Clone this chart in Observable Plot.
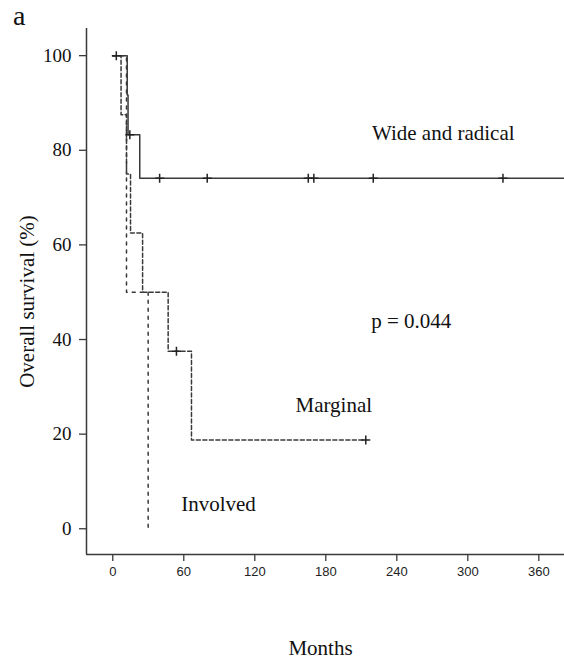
<!DOCTYPE html>
<html><head><meta charset="utf-8">
<script src="https://cdn.jsdelivr.net/npm/d3@7"></script>
<script src="https://cdn.jsdelivr.net/npm/@observablehq/plot@0.6"></script>
<style>
body{margin:0;background:#fff}
#chart{position:relative;width:564px;height:662px;overflow:hidden}
#panel{position:absolute;left:13px;top:1px;line-height:1.1;font-family:"Liberation Serif",serif;font-size:28px;color:#111}
</style>
</head><body><div id="chart"><div id="panel">a</div></div>
<script>
// Kaplan–Meier step curves (months, overall survival %)
const wideMonths = [0, 12.2, 12.9, 22.8, 381];
const wideSurv   = [100, 91.7, 83.3, 74.1, 74.1];
const margMonths = [0, 7.0, 11.6, 15.0, 25.2, 46.8, 66.5, 213.8];
const margSurv   = [100, 87.5, 75.0, 62.5, 50.0, 37.5, 18.75, 18.75];
const invMonths  = [0, 11.6, 29.9];
const invSurv    = [100, 50, 0];
// censored observations
const wideCensMonths = [3, 14.4, 39.6, 79.8, 165.2, 169.9, 220.1, 329.7];
const wideCensSurv   = [100, 83.3, 74.1, 74.1, 74.1, 74.1, 74.1, 74.1];
const margCensMonths = [53.8, 213.8];
const margCensSurv   = [37.5, 18.75];
// labels
const labelText   = ["Wide and radical", "p = 0.044", "Marginal", "Involved"];
const labelMonths = [219, 218.4, 154.4, 57.8];
const labelSurv   = [83.7, 43.9, 26.0, 5.1];
// axes
const xTicks = [0, 60, 120, 180, 240, 300, 360];
const yTicks = [0, 20, 40, 60, 80, 100];
const xDomain = [-22.2, 381.7];
const yDomain = [-5.44, 105.74];

const toRows = (xs, ys) => xs.map((x, i) => ({x, y: ys[i]}));
const wide = toRows(wideMonths, wideSurv);
const marg = toRows(margMonths, margSurv);
const inv = toRows(invMonths, invSurv);
const cens = toRows(wideCensMonths, wideCensSurv).concat(toRows(margCensMonths, margCensSurv));
const labels = labelText.map((t, i) => ({t, x: labelMonths[i], y: labelSurv[i]}));

const plusSymbol = {draw(ctx, size) {
  const r = Math.sqrt(size / Math.PI);
  ctx.moveTo(-r, 0); ctx.lineTo(r, 0);
  ctx.moveTo(0, -r); ctx.lineTo(0, r);
}};

const serif = "Liberation Serif, Times New Roman, serif";
const ink = "#3a3a3a";

const chart = Plot.plot({
  width: 564, height: 662,
  marginLeft: 86, marginRight: 0, marginTop: 28, marginBottom: 108,
  x: {domain: xDomain},
  y: {domain: yDomain},
  style: {background: "#fff", fontFamily: serif, color: "#111"},
  marks: [
    Plot.axisY(yTicks, {tickSize: 7, tickPadding: 8, fontSize: 19, fontFamily: serif, stroke: ink, strokeWidth: 1.3, fill: "#111", label: null}),
    Plot.axisX(xTicks, {tickSize: 7, tickPadding: 5, fontSize: 13, fontFamily: "Liberation Sans, Arial, sans-serif", stroke: ink, strokeWidth: 1.3, fill: "#222", label: null}),
    Plot.ruleX([xDomain[0]], {stroke: ink, strokeWidth: 1.5}),
    Plot.ruleY([yDomain[0]], {stroke: ink, strokeWidth: 1.5}),
    Plot.line(wide, {x: "x", y: "y", curve: "step-after", stroke: ink, strokeWidth: 1.5}),
    Plot.line(marg, {x: "x", y: "y", curve: "step-after", stroke: ink, strokeWidth: 1.5, strokeDasharray: "4,2.5"}),
    Plot.line(inv, {x: "x", y: "y", curve: "step-after", stroke: ink, strokeWidth: 1.5, strokeDasharray: "3,5"}),
    Plot.dot(cens, {x: "x", y: "y", r: 4.5, symbol: plusSymbol, fill: "none", stroke: "#222", strokeWidth: 1.5}),
    Plot.text(labels, {x: "x", y: "y", text: "t", textAnchor: "start", lineAnchor: "middle", fontSize: 21, fontFamily: serif, fill: "#111"}),
    Plot.text(["Months"], {frameAnchor: "bottom", textAnchor: "middle", dx: -5, dy: 94, lineAnchor: "middle", fontSize: 21, fontFamily: serif, fill: "#111"}),
    Plot.text(["Overall survival (%)"], {frameAnchor: "left", textAnchor: "middle", dx: -59, dy: 10, rotate: -90, lineAnchor: "middle", fontSize: 21, fontFamily: serif, fill: "#111"})
  ]
});
document.getElementById("chart").prepend(chart);
</script>
</body></html>
